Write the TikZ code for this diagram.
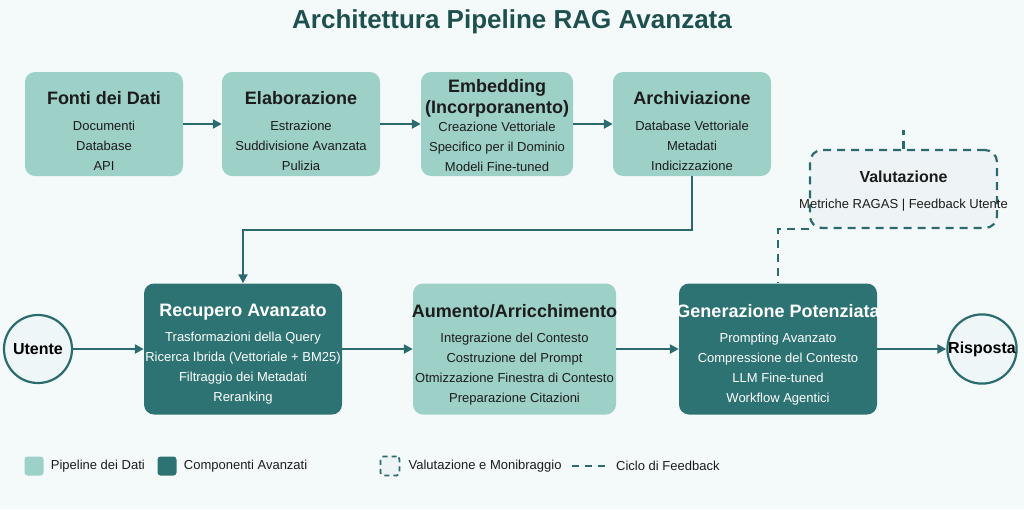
\documentclass[tikz,border=0pt]{standalone}
\usepackage{fontspec}
\setmainfont{Liberation Sans}
\usetikzlibrary{arrows.meta,positioning}

\definecolor{bgc}{HTML}{F4FAFA}
\definecolor{lightteal}{HTML}{9DD0C7}
\definecolor{darkteal}{HTML}{2E7373}
\definecolor{arrowc}{HTML}{2B6B70}
\definecolor{titlec}{HTML}{1E5050}
\definecolor{textc}{HTML}{1C1C1C}
\definecolor{circfill}{HTML}{EEF6F7}
\definecolor{evalfill}{HTML}{EEF4F6}

\newcommand{\boxtitle}[1]{{\fontsize{18}{20}\selectfont\bfseries #1}}

\tikzset{
  databox/.style={rectangle, rounded corners=10pt, fill=lightteal, inner sep=0pt, minimum height=104pt},
  advbox/.style={rectangle, rounded corners=10pt, fill=darkteal, inner sep=0pt, minimum width=198pt, minimum height=131pt},
  boxtext/.style={align=center, inner sep=0pt, text=textc, font=\fontsize{13}{20}\selectfont},
  advtext/.style={boxtext, text=white},
  flow/.style={draw=arrowc, line width=2.4pt, -{Triangle[length=9pt,width=9pt]}},
  fback/.style={draw=arrowc, line width=2.2pt, dash pattern=on 8pt off 6pt},
  endpoint/.style={circle, draw=arrowc, line width=2.2pt, fill=circfill, inner sep=0pt, minimum size=68pt, font=\fontsize{16}{18}\selectfont\bfseries},
  legbox/.style={rectangle, rounded corners=3pt, inner sep=0pt, minimum size=19pt},
  legtext/.style={inner sep=0pt, font=\fontsize{13}{16}\selectfont, text=textc}
}

\begin{document}
\begin{tikzpicture}[x=1pt, y=-1pt]
    % Background
    \fill[bgc] (0,0) rectangle (1024,509);
    \useasboundingbox (0,0) rectangle (1024,509);
    % Title
    \node[font=\fontsize{26}{30}\selectfont\bfseries, text=titlec] (title) at (512,22) {Architettura Pipeline RAG Avanzata};
    % Data pipeline
    \node[databox, minimum width=158pt] (fonti) at (104,124) {};
    \node[databox, minimum width=158pt] (elab) at (301,124) {};
    \node[databox, minimum width=152pt] (embed) at (497,124) {};
    \node[databox, minimum width=158pt] (archiv) at (692,124) {};
    \node[boxtext, below=19.5pt of fonti.north] (fonti-txt)
        {\boxtitle{Fonti dei Dati}\\[6pt] Documenti\\ Database\\ API};
    \node[boxtext, below=19.5pt of elab.north] (elab-txt)
        {\boxtitle{Elaborazione}\\[6pt] Estrazione\\ Suddivisione Avanzata\\ Pulizia};
    \node[boxtext, below=7.5pt of embed.north] (embed-txt)
        {\boxtitle{Embedding}\\[1pt] \boxtitle{(Incorporanento)}\\[-2pt] Creazione Vettoriale\\ Specifico per il Dominio\\ Modeli Fine-tuned};
    \node[boxtext, below=19.5pt of archiv.north] (archiv-txt)
        {\boxtitle{Archiviazione}\\[6pt] Database Vettoriale\\ Metadati\\ Indicizzazione};
    \foreach \a/\b in {fonti/elab, elab/embed, embed/archiv}
    {
        \draw[flow] (\a) -- (\b);
    }
    % Query path
    \node[endpoint] (utente) at (38,349) {Utente};
    \node[advbox] (recupero) at (243,349) {};
    \node[databox, minimum width=203pt, minimum height=131pt] (aumento) at (514.5,349) {};
    \node[advbox] (gen) at (778,349) {};
    \node[endpoint] (risposta) at (982,349) {Risposta};
    \node[advtext, below=20.5pt of recupero.north] (recupero-txt)
        {\boxtitle{Recupero Avanzato}\\[5pt] Trasformazioni della Query\\ Ricerca Ibrida (Vettoriale + BM25)\\ Filtraggio dei Metadati\\ Reranking};
    \node[boxtext, below=20.5pt of aumento.north] (aumento-txt)
        {\boxtitle{Aumento/Arricchimento}\\[5pt] Integrazione del Contesto\\ Costruzione del Prompt\\ Otmizzazione Finestra di Contesto\\ Preparazione Citazioni};
    \node[advtext, below=20.5pt of gen.north] (gen-txt)
        {\boxtitle{Generazione Potenziata}\\[5pt] Prompting Avanzato\\ Compressione del Contesto\\ LLM Fine-tuned\\ Workflow Agentici};
    \foreach \a/\b in {utente/recupero, recupero/aumento, aumento/gen, gen/risposta}
    {
        \draw[flow] (\a) -- (\b);
    }
    \draw[flow] (archiv.south) -- ++(0,54) -| (recupero.north);
    % Evaluation
    \node[rectangle, rounded corners=12pt, fill=evalfill, fback, minimum width=187pt, minimum height=78pt] (valut) at (903.5,189) {};
    \node[boxtext, below=22pt of valut.north] (valut-txt)
        {{\fontsize{16}{20}\selectfont\bfseries Valutazione}\\[6pt] Metriche RAGAS | Feedback Utente};
    \coordinate (fb-top) at (903.5,130);
    \draw[fback] (valut.north) -- (fb-top);
    \draw[fback] (valut.south west) -| (gen.north);
    % Legend
    \node[legbox, fill=lightteal] (leg-data) at (34,466) {};
    \node[legtext, right=7pt of leg-data] (leg-data-txt) {Pipeline dei Dati};
    \node[legbox, fill=darkteal] (leg-adv) at (167,466) {};
    \node[legtext, right=7pt of leg-adv] (leg-adv-txt) {Componenti Avanzati};
    \node[legbox, fill=evalfill, draw=arrowc, line width=1.8pt, dash pattern=on 5pt off 4pt] (leg-eval) at (390,466) {};
    \node[legtext, right=8pt of leg-eval] (leg-eval-txt) {Valutazione e Monibraggio};
    \coordinate (leg-fb-a) at (572,466);
    \coordinate (leg-fb-b) at (605,466);
    \draw[fback, dash pattern=on 7pt off 6pt] (leg-fb-a) -- (leg-fb-b);
    \node[legtext, anchor=west] (leg-fb-txt) at (616,466) {Ciclo di Feedback};
\end{tikzpicture}
\end{document}
